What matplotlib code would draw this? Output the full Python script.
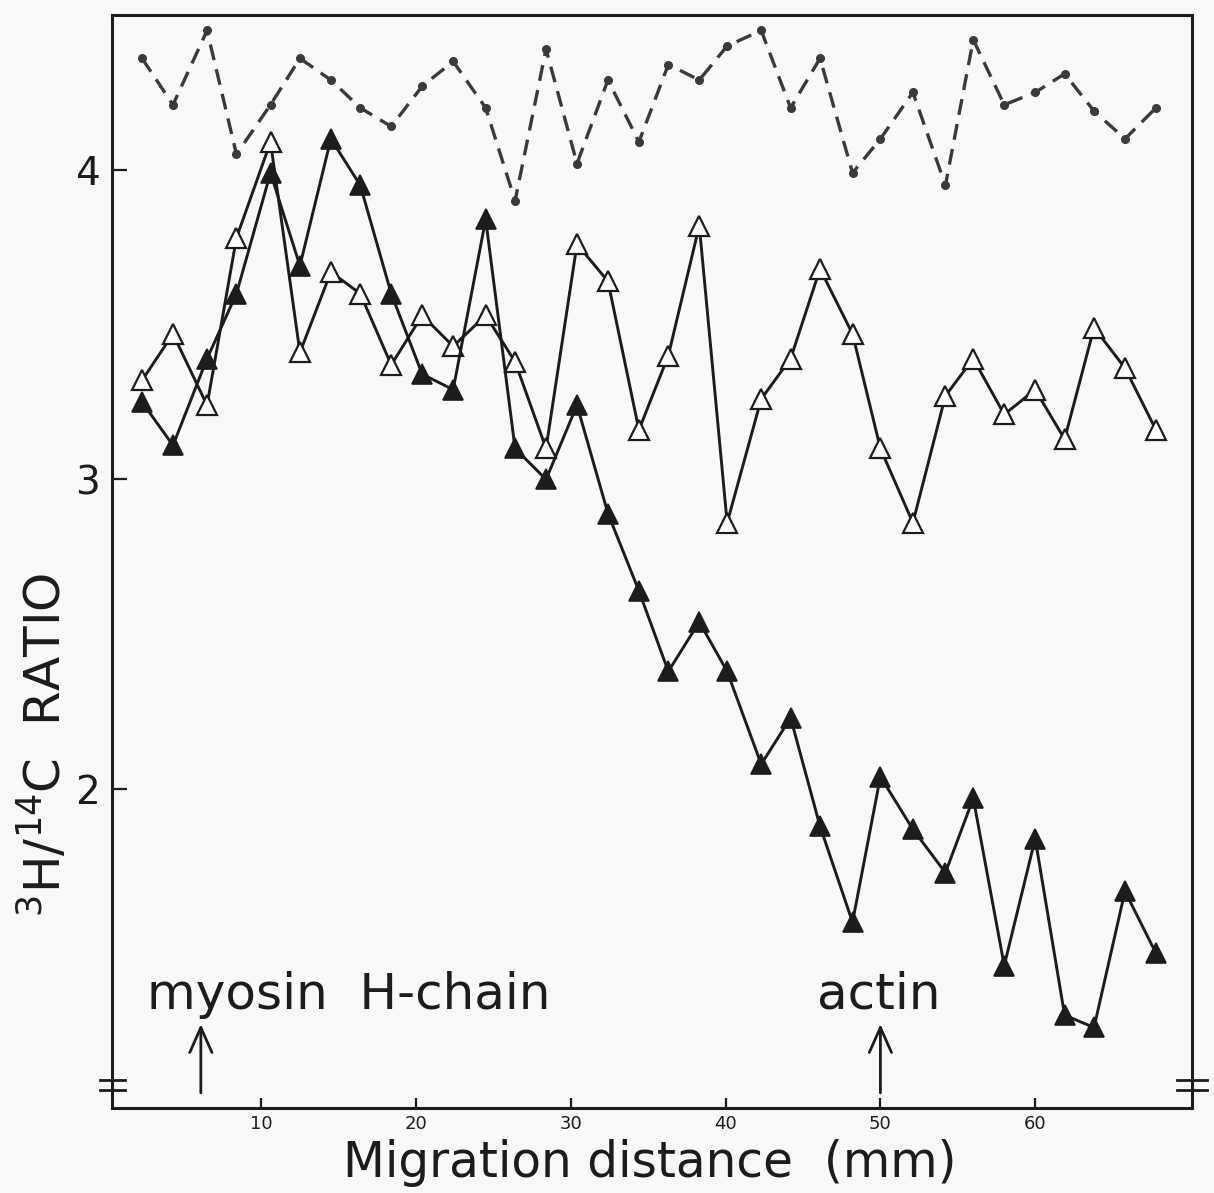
import matplotlib
matplotlib.use("Agg")
import matplotlib.pyplot as plt
from matplotlib.lines import Line2D

# Gel slice positions (mm from origin)
distance_mm = [2.3, 4.3, 6.5, 8.4, 10.6, 12.5, 14.5, 16.4, 18.4, 20.4,
               22.4, 24.5, 26.4, 28.4, 30.4, 32.4, 34.4, 36.3, 38.3, 40.1,
               42.3, 44.2, 46.1, 48.2, 50.0, 52.1, 54.2, 56.0, 58.0, 60.0,
               61.9, 63.8, 65.8, 67.8]

# 3H/14C ratios for the three preparations
ratio_dots = [4.36, 4.21, 4.45, 4.05, 4.21, 4.36, 4.29, 4.20, 4.14, 4.27,
              4.35, 4.20, 3.90, 4.39, 4.02, 4.29, 4.09, 4.34, 4.29, 4.40,
              4.45, 4.20, 4.36, 3.99, 4.10, 4.25, 3.95, 4.42, 4.21, 4.25,
              4.31, 4.19, 4.10, 4.20]

ratio_open = [3.32, 3.47, 3.24, 3.78, 4.09, 3.41, 3.67, 3.60, 3.37, 3.53,
              3.43, 3.53, 3.38, 3.10, 3.76, 3.64, 3.16, 3.40, 3.82, 2.86,
              3.26, 3.39, 3.68, 3.47, 3.10, 2.86, 3.27, 3.39, 3.21, 3.29,
              3.13, 3.49, 3.36, 3.16]

ratio_filled = [3.25, 3.11, 3.39, 3.60, 3.99, 3.69, 4.10, 3.95, 3.60, 3.34,
                3.29, 3.84, 3.10, 3.00, 3.24, 2.89, 2.64, 2.38, 2.54, 2.38,
                2.08, 2.23, 1.88, 1.57, 2.04, 1.87, 1.73, 1.97, 1.43, 1.84,
                1.27, 1.23, 1.67, 1.47]

x_ticks = [10, 20, 30, 40, 50, 60]
y_ticks = [2, 3, 4]

# Marker bands: (label, position in mm, label start in mm)
bands = [("myosin  H-chain", 6.1, 2.6), ("actin", 50.0, 45.9)]

W, H = 1214, 1193
ink = "#1c1c1c"
paper = "#f8f8f6"

fig = plt.figure(figsize=(W / 100, H / 100), dpi=100, facecolor=paper)
ax = fig.add_axes([112 / W, 85 / H, 1080 / W, 1093 / H], facecolor=paper)

ax.set_xlim(0.36, 70.13)
ax.set_ylim(0.97, 4.50)

# dashed series with small dots
ax.plot(distance_mm, ratio_dots, color="#3a3a3a", lw=2.4,
        dashes=(4.8, 2.8), marker="o", ms=5.5, mfc="#3a3a3a",
        mec="#3a3a3a", zorder=3)

# open triangles
ax.plot(distance_mm, ratio_open, color=ink, lw=2.1, marker="^", ms=14,
        mfc="white", mec=ink, mew=1.6, zorder=4)

# filled triangles
ax.plot(distance_mm, ratio_filled, color=ink, lw=2.1, marker="^", ms=14,
        mfc=ink, mec=ink, mew=1.2, zorder=5)

for s in ax.spines.values():
    s.set_linewidth(2.2)
    s.set_color(ink)

ax.set_xticks(x_ticks)
ax.set_yticks(y_ticks)
ax.set_xticklabels([str(v) for v in x_ticks])
ax.set_yticklabels([str(v) for v in y_ticks])
ax.tick_params(axis="x", direction="in", length=7, width=1.6, pad=5,
               labelsize=13, colors=ink)
ax.tick_params(axis="y", direction="in", length=11, width=1.6, pad=9,
               labelsize=28, colors=ink)

# band labels and arrows
for label, pos, start in bands:
    ax.text(start, 1.29, label, fontsize=36, color=ink, ha="left",
            va="baseline", zorder=6)
    ax.annotate("", xy=(pos, 1.25), xytext=(pos, 1.01),
                arrowprops=dict(arrowstyle="->,head_length=0.9,head_width=0.4",
                                lw=2.0, color=ink, mutation_scale=20))

# axis break marks on both vertical spines
for x0, x1 in [(-0.41, 1.2), (69.16, 71.1)]:
    for yb in (1.059, 1.027):
        ax.add_line(Line2D([x0, x1], [yb, yb], color=ink, lw=2.0,
                           clip_on=False, zorder=7))

fig.text(650 / W, 1 - 1163 / H, "Migration distance  (mm)", fontsize=35,
         color=ink, ha="center", va="center")
fig.text(44 / W, 1 - 745 / H, r"$^{3}$H/$^{14}$C  RATIO", fontsize=36,
         color=ink, ha="center", va="center", rotation=90)

fig.savefig("out.png", dpi=100, facecolor=paper)
